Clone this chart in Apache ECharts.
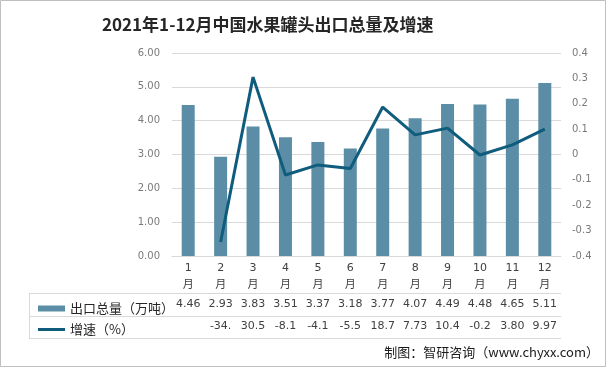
<!DOCTYPE html>
<html><head><meta charset="utf-8">
<script src="https://cdn.jsdelivr.net/npm/echarts@6/dist/echarts.min.js"></script>
<style>html,body{margin:0;padding:0;background:#fff}#c{width:606px;height:367px}</style>
</head><body><div id="c"></div>
<script>
const categories = ['1','2','3','4','5','6','7','8','9','10','11','12'];
const exportVolume = [4.46, 2.93, 3.83, 3.51, 3.37, 3.18, 3.77, 4.07, 4.49, 4.48, 4.65, 5.11];
const growthPct = [null, -34.5, 30.5, -8.1, -4.1, -5.5, 18.7, 7.73, 10.4, -0.2, 3.80, 9.97];
const volumeLabels = ['4.46','2.93','3.83','3.51','3.37','3.18','3.77','4.07','4.49','4.48','4.65','5.11'];
const growthLabels = ['','-34.','30.5','-8.1','-4.1','-5.5','18.7','7.73','10.4','-0.2','3.80','9.97'];
const leftTicks = {min: 0, max: 6, interval: 1};
const rightTicks = {min: -40, max: 40, interval: 10};
const seriesNames = ['出口总量（万吨）', '增速（%）'];

const chart = echarts.init(document.getElementById('c'));
const NUMFONT = 'DejaVu Sans, Noto Sans CJK SC, sans-serif';
const CJK = 'Noto Sans CJK SC, sans-serif';
const gridLeft = 172, gridRight = 45, gridTop = 53, gridBottom = 111;
const tableLine = '#d9d9d9';
const lineIcon = 'path://M0,0 L0.01,0 L0.01,0.01Z M0,1.6 L27,1.6 L27,4.4 L0,4.4Z M0,6 L0.01,6 L0.01,5.99Z';
function rowAxis(labels, margin) {
  return {
    type: 'category', data: categories, position: 'bottom',
    axisLine: {show: false}, axisTick: {show: false},
    axisLabel: {margin: margin, interval: 0, fontFamily: NUMFONT, fontSize: 11, color: '#404040',
      formatter: (v, i) => labels[i]}
  };
}
chart.setOption({
  animation: false,
  title: [{
    text: '2021年1-12月中国水果罐头出口总量及增速', left: 97, top: 11,
    textStyle: {fontFamily: CJK, fontSize: 17, fontWeight: 'bold', color: '#262626'}
  }, {
    text: '制图：智研咨询（www.chyxx.com）', right: 2, bottom: 3,
    textStyle: {fontFamily: CJK, fontSize: 13, fontWeight: 'normal', color: '#1a1a1a'}
  }],
  legend: {
    orient: 'vertical', left: 33, top: 297, itemGap: 8, itemWidth: 27, itemHeight: 6,
    textStyle: {fontFamily: CJK, fontSize: 13, color: '#262626'},
    data: [{name: seriesNames[0], icon: 'rect'}, {name: seriesNames[1], icon: lineIcon}]
  },
  grid: {left: gridLeft, right: gridRight, top: gridTop, bottom: gridBottom},
  xAxis: [{
    type: 'category', data: categories,
    axisLine: {lineStyle: {color: tableLine}},
    axisTick: {length: 82, lineStyle: {color: tableLine}},
    axisLabel: {margin: 4, interval: 0, fontFamily: NUMFONT, fontSize: 11, color: '#404040', lineHeight: 17,
      formatter: v => v + '\n月'}
  }, rowAxis(volumeLabels, 43), rowAxis(growthLabels, 65)],
  yAxis: [{
    type: 'value', min: leftTicks.min, max: leftTicks.max, interval: leftTicks.interval,
    axisLine: {show: false}, axisTick: {show: false},
    splitLine: {lineStyle: {color: tableLine}},
    axisLabel: {margin: 12, fontFamily: NUMFONT, fontSize: 10, color: '#7a7a7a', formatter: v => v.toFixed(2)}
  }, {
    type: 'value', min: rightTicks.min, max: rightTicks.max, interval: rightTicks.interval,
    axisLine: {show: false}, axisTick: {show: false}, splitLine: {show: false},
    axisLabel: {margin: 11, fontFamily: NUMFONT, fontSize: 10, color: '#7a7a7a',
      formatter: v => (v === 0 ? '0' : String(Math.round(v) / 100))}
  }],
  series: [{
    name: seriesNames[0], type: 'bar', data: exportVolume, barWidth: 13,
    itemStyle: {color: '#5B8EA6'}
  }, {
    name: seriesNames[1], type: 'line', yAxisIndex: 1, data: growthPct,
    symbol: 'none', connectNulls: false,
    lineStyle: {color: '#0F5C7C', width: 3}, itemStyle: {color: '#0F5C7C'}
  }],
  graphic: [
    {type: 'rect', shape: {x: 0.5, y: 0.5, width: 605, height: 366}, style: {fill: null, stroke: '#bfbfbf', lineWidth: 1}, silent: true},
    {type: 'line', shape: {x1: 29, y1: 293.5, x2: 606 - gridRight, y2: 293.5}, style: {stroke: tableLine, lineWidth: 1}},
    {type: 'line', shape: {x1: 29, y1: 316.5, x2: 606 - gridRight, y2: 316.5}, style: {stroke: tableLine, lineWidth: 1}},
    {type: 'line', shape: {x1: 29, y1: 338.5, x2: 606 - gridRight, y2: 338.5}, style: {stroke: tableLine, lineWidth: 1}},
    {type: 'line', shape: {x1: 29.5, y1: 293, x2: 29.5, y2: 339}, style: {stroke: tableLine, lineWidth: 1}}
  ]
});
</script></body></html>
